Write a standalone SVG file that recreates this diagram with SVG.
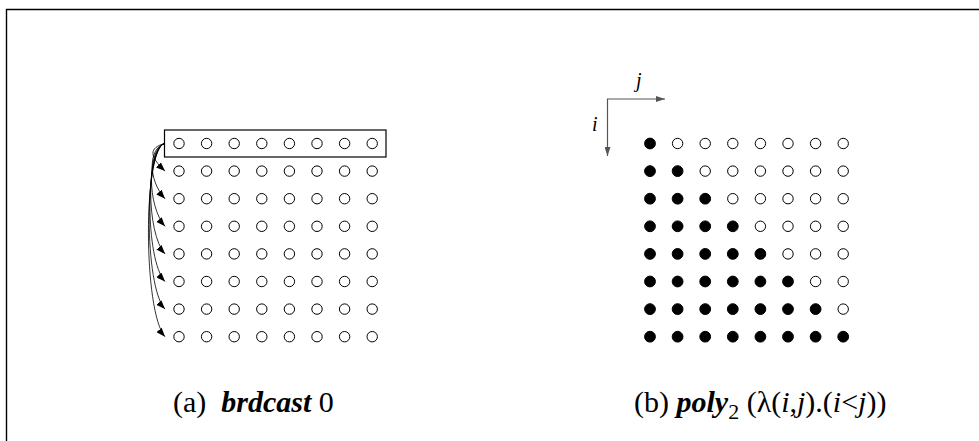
<svg xmlns="http://www.w3.org/2000/svg" width="979" height="441" viewBox="0 0 979 441">
  <style>
    .frame { fill: none; stroke: #000; stroke-width: 1.4; }
    .pt { fill: #fff; stroke: #000; stroke-width: 1; }
    .pt.on { fill: #000; }
    .row { fill: none; stroke: #000; stroke-width: 1.2; }
    .bc { fill: none; stroke: #000; stroke-width: 0.8; }
    .axis { fill: none; stroke: #555; stroke-width: 1.2; }
    .lbl { font-family: "Liberation Serif", "Times New Roman", serif; font-size: 30px; fill: #000; }
    .ax { font-family: "Liberation Serif", "Times New Roman", serif; font-size: 20px; font-style: italic; fill: #000; }
    .kw { font-weight: bold; font-style: italic; }
    .it { font-style: italic; }
  </style>
  <defs>
    <marker id="head" markerUnits="userSpaceOnUse" markerWidth="9" markerHeight="7" refX="9" refY="3.5" orient="auto">
      <path d="M0,0 L9,3.5 L0,7 z" fill="#000"/>
    </marker>
    <marker id="axhead" markerUnits="userSpaceOnUse" markerWidth="9" markerHeight="6" refX="9" refY="3" orient="auto">
      <path d="M0,0 L9,3 L0,6 z" fill="#555"/>
    </marker>
  </defs>

  <!-- frame -->
  <path class="frame" d="M6.5,441 L6.5,9.5 L979,9.5"/>

  <!-- (a) broadcast of row 0 -->
  <g id="gridA">
    <rect class="row" x="164.5" y="130" width="221.5" height="27"/>
    <g id="gridA-points">
      <circle class="pt" cx="179" cy="143.5" r="5.2"/><circle class="pt" cx="206.6" cy="143.5" r="5.2"/><circle class="pt" cx="234.2" cy="143.5" r="5.2"/><circle class="pt" cx="261.8" cy="143.5" r="5.2"/><circle class="pt" cx="289.4" cy="143.5" r="5.2"/><circle class="pt" cx="317" cy="143.5" r="5.2"/><circle class="pt" cx="344.6" cy="143.5" r="5.2"/><circle class="pt" cx="372.2" cy="143.5" r="5.2"/>
      <circle class="pt" cx="179" cy="171.1" r="5.2"/><circle class="pt" cx="206.6" cy="171.1" r="5.2"/><circle class="pt" cx="234.2" cy="171.1" r="5.2"/><circle class="pt" cx="261.8" cy="171.1" r="5.2"/><circle class="pt" cx="289.4" cy="171.1" r="5.2"/><circle class="pt" cx="317" cy="171.1" r="5.2"/><circle class="pt" cx="344.6" cy="171.1" r="5.2"/><circle class="pt" cx="372.2" cy="171.1" r="5.2"/>
      <circle class="pt" cx="179" cy="198.7" r="5.2"/><circle class="pt" cx="206.6" cy="198.7" r="5.2"/><circle class="pt" cx="234.2" cy="198.7" r="5.2"/><circle class="pt" cx="261.8" cy="198.7" r="5.2"/><circle class="pt" cx="289.4" cy="198.7" r="5.2"/><circle class="pt" cx="317" cy="198.7" r="5.2"/><circle class="pt" cx="344.6" cy="198.7" r="5.2"/><circle class="pt" cx="372.2" cy="198.7" r="5.2"/>
      <circle class="pt" cx="179" cy="226.3" r="5.2"/><circle class="pt" cx="206.6" cy="226.3" r="5.2"/><circle class="pt" cx="234.2" cy="226.3" r="5.2"/><circle class="pt" cx="261.8" cy="226.3" r="5.2"/><circle class="pt" cx="289.4" cy="226.3" r="5.2"/><circle class="pt" cx="317" cy="226.3" r="5.2"/><circle class="pt" cx="344.6" cy="226.3" r="5.2"/><circle class="pt" cx="372.2" cy="226.3" r="5.2"/>
      <circle class="pt" cx="179" cy="253.9" r="5.2"/><circle class="pt" cx="206.6" cy="253.9" r="5.2"/><circle class="pt" cx="234.2" cy="253.9" r="5.2"/><circle class="pt" cx="261.8" cy="253.9" r="5.2"/><circle class="pt" cx="289.4" cy="253.9" r="5.2"/><circle class="pt" cx="317" cy="253.9" r="5.2"/><circle class="pt" cx="344.6" cy="253.9" r="5.2"/><circle class="pt" cx="372.2" cy="253.9" r="5.2"/>
      <circle class="pt" cx="179" cy="281.5" r="5.2"/><circle class="pt" cx="206.6" cy="281.5" r="5.2"/><circle class="pt" cx="234.2" cy="281.5" r="5.2"/><circle class="pt" cx="261.8" cy="281.5" r="5.2"/><circle class="pt" cx="289.4" cy="281.5" r="5.2"/><circle class="pt" cx="317" cy="281.5" r="5.2"/><circle class="pt" cx="344.6" cy="281.5" r="5.2"/><circle class="pt" cx="372.2" cy="281.5" r="5.2"/>
      <circle class="pt" cx="179" cy="309.1" r="5.2"/><circle class="pt" cx="206.6" cy="309.1" r="5.2"/><circle class="pt" cx="234.2" cy="309.1" r="5.2"/><circle class="pt" cx="261.8" cy="309.1" r="5.2"/><circle class="pt" cx="289.4" cy="309.1" r="5.2"/><circle class="pt" cx="317" cy="309.1" r="5.2"/><circle class="pt" cx="344.6" cy="309.1" r="5.2"/><circle class="pt" cx="372.2" cy="309.1" r="5.2"/>
      <circle class="pt" cx="179" cy="336.7" r="5.2"/><circle class="pt" cx="206.6" cy="336.7" r="5.2"/><circle class="pt" cx="234.2" cy="336.7" r="5.2"/><circle class="pt" cx="261.8" cy="336.7" r="5.2"/><circle class="pt" cx="289.4" cy="336.7" r="5.2"/><circle class="pt" cx="317" cy="336.7" r="5.2"/><circle class="pt" cx="344.6" cy="336.7" r="5.2"/><circle class="pt" cx="372.2" cy="336.7" r="5.2"/>
    </g>
  </g>

  <!-- broadcast connectors from row 0 to every other row -->
  <g id="connectors">
    <path class="bc" marker-end="url(#head)" d="M164.5,143.5 C149,148 149,156 165,171.1"/>
    <path class="bc" marker-end="url(#head)" d="M164.5,143.5 C148,149 148,180 165,198.7"/>
    <path class="bc" marker-end="url(#head)" d="M164.5,143.5 C147,149 147,206 165,226.3"/>
    <path class="bc" marker-end="url(#head)" d="M164.5,143.5 C146,149 146,233 165,253.9"/>
    <path class="bc" marker-end="url(#head)" d="M164.5,143.5 C145,149 145,260 165,281.5"/>
    <path class="bc" marker-end="url(#head)" d="M164.5,143.5 C144,149 144,287 165,309.1"/>
    <path class="bc" marker-end="url(#head)" d="M164.5,143.5 C143,149 143,312 165,336.7"/>
  </g>

  <!-- (b) i<j mask -->
  <g id="axes">
    <line class="axis" x1="607.5" y1="99" x2="607.5" y2="156" marker-end="url(#axhead)"/>
    <line class="axis" x1="607" y1="99" x2="665" y2="99" marker-end="url(#axhead)"/>
    <text class="ax" x="636" y="87">j</text>
    <text class="ax" x="592" y="131">i</text>
  </g>

  <g id="gridB">
    <circle class="pt on" cx="650" cy="143.5" r="5.4"/><circle class="pt" cx="677.6" cy="143.5" r="5.2"/><circle class="pt" cx="705.2" cy="143.5" r="5.2"/><circle class="pt" cx="732.8" cy="143.5" r="5.2"/><circle class="pt" cx="760.4" cy="143.5" r="5.2"/><circle class="pt" cx="788" cy="143.5" r="5.2"/><circle class="pt" cx="815.6" cy="143.5" r="5.2"/><circle class="pt" cx="843.2" cy="143.5" r="5.2"/>
    <circle class="pt on" cx="650" cy="171.1" r="5.4"/><circle class="pt on" cx="677.6" cy="171.1" r="5.4"/><circle class="pt" cx="705.2" cy="171.1" r="5.2"/><circle class="pt" cx="732.8" cy="171.1" r="5.2"/><circle class="pt" cx="760.4" cy="171.1" r="5.2"/><circle class="pt" cx="788" cy="171.1" r="5.2"/><circle class="pt" cx="815.6" cy="171.1" r="5.2"/><circle class="pt" cx="843.2" cy="171.1" r="5.2"/>
    <circle class="pt on" cx="650" cy="198.7" r="5.4"/><circle class="pt on" cx="677.6" cy="198.7" r="5.4"/><circle class="pt on" cx="705.2" cy="198.7" r="5.4"/><circle class="pt" cx="732.8" cy="198.7" r="5.2"/><circle class="pt" cx="760.4" cy="198.7" r="5.2"/><circle class="pt" cx="788" cy="198.7" r="5.2"/><circle class="pt" cx="815.6" cy="198.7" r="5.2"/><circle class="pt" cx="843.2" cy="198.7" r="5.2"/>
    <circle class="pt on" cx="650" cy="226.3" r="5.4"/><circle class="pt on" cx="677.6" cy="226.3" r="5.4"/><circle class="pt on" cx="705.2" cy="226.3" r="5.4"/><circle class="pt on" cx="732.8" cy="226.3" r="5.4"/><circle class="pt" cx="760.4" cy="226.3" r="5.2"/><circle class="pt" cx="788" cy="226.3" r="5.2"/><circle class="pt" cx="815.6" cy="226.3" r="5.2"/><circle class="pt" cx="843.2" cy="226.3" r="5.2"/>
    <circle class="pt on" cx="650" cy="253.9" r="5.4"/><circle class="pt on" cx="677.6" cy="253.9" r="5.4"/><circle class="pt on" cx="705.2" cy="253.9" r="5.4"/><circle class="pt on" cx="732.8" cy="253.9" r="5.4"/><circle class="pt on" cx="760.4" cy="253.9" r="5.4"/><circle class="pt" cx="788" cy="253.9" r="5.2"/><circle class="pt" cx="815.6" cy="253.9" r="5.2"/><circle class="pt" cx="843.2" cy="253.9" r="5.2"/>
    <circle class="pt on" cx="650" cy="281.5" r="5.4"/><circle class="pt on" cx="677.6" cy="281.5" r="5.4"/><circle class="pt on" cx="705.2" cy="281.5" r="5.4"/><circle class="pt on" cx="732.8" cy="281.5" r="5.4"/><circle class="pt on" cx="760.4" cy="281.5" r="5.4"/><circle class="pt on" cx="788" cy="281.5" r="5.4"/><circle class="pt" cx="815.6" cy="281.5" r="5.2"/><circle class="pt" cx="843.2" cy="281.5" r="5.2"/>
    <circle class="pt on" cx="650" cy="309.1" r="5.4"/><circle class="pt on" cx="677.6" cy="309.1" r="5.4"/><circle class="pt on" cx="705.2" cy="309.1" r="5.4"/><circle class="pt on" cx="732.8" cy="309.1" r="5.4"/><circle class="pt on" cx="760.4" cy="309.1" r="5.4"/><circle class="pt on" cx="788" cy="309.1" r="5.4"/><circle class="pt on" cx="815.6" cy="309.1" r="5.4"/><circle class="pt" cx="843.2" cy="309.1" r="5.2"/>
    <circle class="pt on" cx="650" cy="336.7" r="5.4"/><circle class="pt on" cx="677.6" cy="336.7" r="5.4"/><circle class="pt on" cx="705.2" cy="336.7" r="5.4"/><circle class="pt on" cx="732.8" cy="336.7" r="5.4"/><circle class="pt on" cx="760.4" cy="336.7" r="5.4"/><circle class="pt on" cx="788" cy="336.7" r="5.4"/><circle class="pt on" cx="815.6" cy="336.7" r="5.4"/><circle class="pt on" cx="843.2" cy="336.7" r="5.4"/>
  </g>

  <!-- captions -->
  <g id="captionA">
    <text class="lbl" x="173" y="412" xml:space="preserve">(a)  <tspan class="kw">brdcast</tspan> 0</text>
  </g>
  <g id="captionB">
    <text class="lbl" x="634" y="412">(b) <tspan class="kw">poly</tspan><tspan font-size="22" dy="7">2</tspan><tspan dy="-7"> (λ(</tspan><tspan class="it">i</tspan>,<tspan class="it">j</tspan>).(<tspan class="it">i</tspan>&lt;<tspan class="it">j</tspan>))</text>
  </g>
</svg>
